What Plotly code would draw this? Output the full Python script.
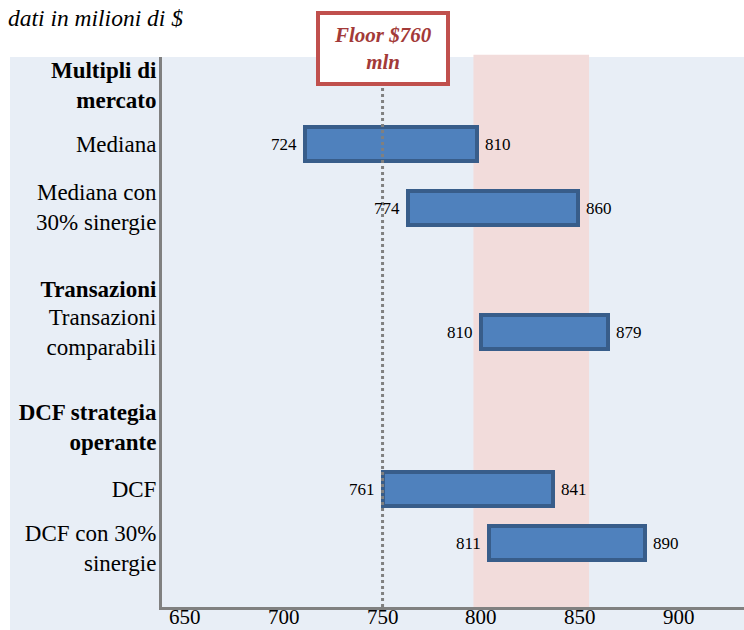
import plotly.graph_objects as go

# ---------------- data ----------------
categories = ["Mediana", "Mediana con<br>30% sinergie", "Transazioni<br>comparabili",
              "DCF", "DCF con 30%<br>sinergie"]
group_headers = ["Multipli di<br>mercato", "Transazioni", "DCF strategia<br>operante"]
label_low = [724, 774, 810, 761, 811]          # printed value labels
label_high = [810, 860, 879, 841, 890]
bar_low = [711, 763, 800, 750, 804]            # bar extents as drawn on the axis
bar_high = [798, 849, 864, 836, 883]
floor_value = 750
floor_text = "Floor $760<br>mln"
band_low, band_high = 796, 854.5
x_ticks = [650, 700, 750, 800, 850, 900]
title_text = "dati in milioni di $"

# ---------------- layout constants (vertical row positions, px from plot top) ----------------
bar_rows = [87, 151, 275, 432, 486]
header_rows = [28, 232, 370]
label_rows = [87, 150, 275, 432, 491]

SERIF = "'Liberation Serif', 'Times New Roman', Times, serif"
W, H = 744, 630
L, R, T, B = 162, 0, 57, 23
plot_w, plot_h = W - L - R, H - T - B

fig = go.Figure()

fig.add_trace(go.Bar(
    orientation="h",
    y=bar_rows,
    x=[h - l for l, h in zip(bar_low, bar_high)],
    base=bar_low,
    width=34,
    marker=dict(color="#4F81BD", line=dict(color="#385D8A", width=4)),
    hoverinfo="skip",
    showlegend=False,
))

annotations = []
for lo, hi, tl, th, y in zip(bar_low, bar_high, label_low, label_high, bar_rows):
    annotations.append(dict(x=lo, y=y, xref="x", yref="y", text=str(tl), showarrow=False,
                            xanchor="right", yanchor="middle", xshift=-6,
                            font=dict(family=SERIF, size=17, color="black")))
    annotations.append(dict(x=hi, y=y, xref="x", yref="y", text=str(th), showarrow=False,
                            xanchor="left", yanchor="middle", xshift=6,
                            font=dict(family=SERIF, size=17, color="black")))

# x-axis tick labels (placed tight under the axis line, inside the page)
for v in x_ticks:
    annotations.append(dict(x=v, y=-B / plot_h, xref="x", yref="paper", text=str(v), showarrow=False,
                            xanchor="center", yanchor="bottom", borderpad=0,
                            font=dict(family=SERIF, size=21, color="black")))

# title
annotations.append(dict(x=-(L - 6) / plot_w, y=1 + (T - 18) / plot_h, xref="paper", yref="paper",
                        text="<i>" + title_text + "</i>", showarrow=False,
                        xanchor="left", yanchor="middle",
                        font=dict(family=SERIF, size=23.5, color="black")))

# floor box
box_x0, box_x1 = (318 - L) / plot_w, (448 - L) / plot_w
box_y0, box_y1 = (H - B - 84) / plot_h, (H - B - 13) / plot_h
annotations.append(dict(x=(box_x0 + box_x1) / 2, y=(box_y0 + box_y1) / 2, xref="paper", yref="paper",
                        text="<b><i>" + floor_text + "</i></b>", showarrow=False,
                        xanchor="center", yanchor="middle",
                        font=dict(family=SERIF, size=21, color="#A33A38")))

shapes = [
    # light blue panel
    dict(type="rect", xref="paper", yref="paper", x0=-(L - 10) / plot_w, x1=1.0,
         y0=-B / plot_h, y1=1.0, fillcolor="#E8EEF6", line=dict(width=0), layer="below"),
    # pink band
    dict(type="rect", xref="x", yref="paper", x0=band_low, x1=band_high, y0=0, y1=1.004,
         fillcolor="#F2DCDB", line=dict(width=0), layer="below"),
    # floor dotted line
    dict(type="line", xref="x", yref="paper", x0=floor_value, x1=floor_value, y0=0, y1=box_y0,
         line=dict(color="#808080", width=3, dash="dot"), layer="above"),
    # floor box
    dict(type="rect", xref="paper", yref="paper", x0=box_x0, x1=box_x1, y0=box_y0, y1=box_y1,
         fillcolor="white", line=dict(color="#C0504D", width=4), layer="above"),
]

tickvals = header_rows + label_rows
ticktext = ["<b>" + h + "</b>" for h in group_headers] + categories

fig.update_layout(
    template="none",
    width=W, height=H,
    margin=dict(l=L, r=R, t=T, b=B, pad=0, autoexpand=False),
    paper_bgcolor="white",
    plot_bgcolor="rgba(0,0,0,0)",
    font=dict(family=SERIF),
    shapes=shapes,
    annotations=annotations,
    showlegend=False,
    bargap=0,
    xaxis=dict(range=[638.4, 932.9], tickvals=x_ticks, showticklabels=False,
               showgrid=False, zeroline=False, showline=True, linecolor="#808080", linewidth=3,
               ticks="", automargin=False, fixedrange=True),
    yaxis=dict(range=[plot_h, 0], tickvals=tickvals, ticktext=ticktext,
               showgrid=False, zeroline=False, showline=True, linecolor="#808080", linewidth=3,
               ticks="", ticklabelstandoff=-2, automargin=False,
               tickfont=dict(family=SERIF, size=23, color="black"), fixedrange=True),
)

fig.write_html("out.html")
